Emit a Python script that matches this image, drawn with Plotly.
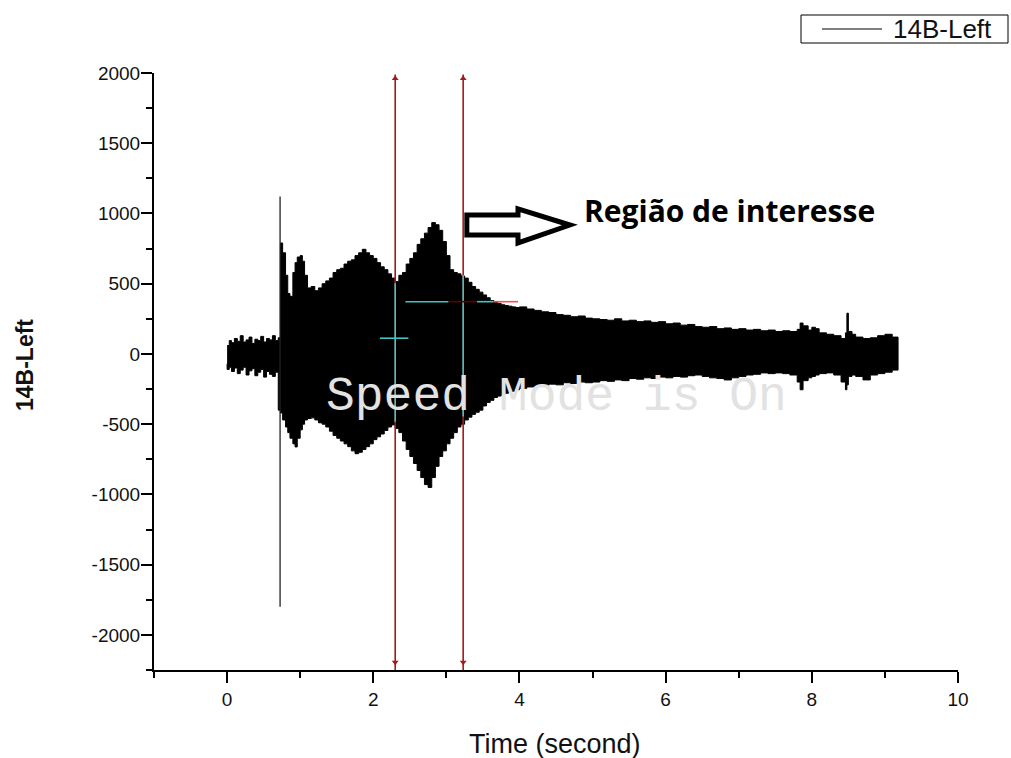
import plotly.graph_objects as go

# ---------------- data ----------------
# envelope of the waveform 14B-Left (time in s, amplitude)
t_env = [0.00, 0.03, 0.06, 0.10, 0.14, 0.18, 0.22, 0.26, 0.30, 0.34, 0.38, 0.42, 0.46, 0.50, 0.54, 0.58, 0.62, 0.66, 0.70,
         0.73, 0.76, 0.80, 0.83, 0.86, 0.90, 0.93, 0.96, 1.00, 1.03, 1.06,
         1.10, 1.15, 1.20, 1.25, 1.30, 1.35, 1.40, 1.45, 1.50, 1.55,
         1.60, 1.65, 1.70, 1.75, 1.80, 1.85, 1.90, 1.95, 2.00, 2.05,
         2.10, 2.15, 2.20, 2.25, 2.30, 2.35, 2.40, 2.45, 2.50, 2.55,
         2.60, 2.65, 2.70, 2.75, 2.80, 2.85, 2.90, 2.95, 3.00, 3.05,
         3.10, 3.15, 3.20, 3.25, 3.30, 3.35, 3.40, 3.45, 3.50, 3.55,
         3.60, 3.65, 3.70, 3.75, 3.80, 3.85, 3.90, 3.95, 4.00,
         4.1, 4.2, 4.3, 4.4, 4.5, 4.6, 4.7, 4.8, 4.9, 5.0,
         5.1, 5.2, 5.3, 5.4, 5.5, 5.6, 5.7, 5.8, 5.9, 6.0,
         6.1, 6.2, 6.3, 6.4, 6.5, 6.6, 6.7, 6.8, 6.9, 7.0,
         7.1, 7.2, 7.3, 7.4, 7.5, 7.6, 7.7, 7.8,
         7.84, 7.88, 7.95, 8.0, 8.05, 8.1, 8.2, 8.3, 8.4, 8.46, 8.48, 8.5, 8.55, 8.6, 8.7, 8.8, 8.9, 9.0, 9.1, 9.18]

upper_env = [60, 95, 80, 110, 90, 130, 85, 100, 120, 75, 105, 95, 125, 85, 110, 100, 130, 95, 115,
             790, 720, 560, 430, 410, 580, 650, 690, 700, 660, 560,
             470, 480, 450, 470, 500, 520, 540, 580, 600, 610,
             640, 660, 670, 700, 720, 745, 720, 700, 680, 650,
             620, 600, 570, 540, 515, 560, 580, 640, 680, 720,
             780, 820, 860, 900, 935, 920, 880, 800, 700, 600,
             580, 570, 555, 540, 510, 480, 460, 440, 420, 400,
             380, 370, 360, 350, 345, 340, 335, 330, 335,
             320, 310, 300, 295, 280, 275, 265, 270, 255, 250,
             245, 240, 250, 235, 240, 230, 235, 225, 230, 215,
             220, 205, 210, 195, 190, 195, 180, 185, 175, 180,
             170, 175, 165, 170, 160, 165, 160, 175,
             220, 200, 170, 190, 180, 150, 140, 130, 110, 150, 290, 160, 140, 120, 110, 115, 130, 140, 120, 95]

lower_env = [-70, -110, -95, -125, -100, -140, -115, -95, -150, -120, -105, -155, -130, -110, -165, -125, -145, -160, -130,
             -400, -420, -470, -520, -560, -600, -640, -662, -600, -540, -500,
             -470, -460, -455, -470, -490, -500, -520, -550, -580, -600,
             -620, -640, -660, -690, -710, -700, -680, -660, -640, -610,
             -590, -570, -545, -520, -505, -530, -560, -620, -680, -730,
             -780, -830, -880, -930, -950, -880, -800, -730, -690, -640,
             -600, -560, -520, -500, -470, -450, -430, -415, -400, -370,
             -345, -330, -310, -300, -290, -280, -270, -265, -255,
             -245, -235, -230, -225, -215, -220, -205, -210, -200, -205,
             -200, -190, -195, -185, -190, -175, -180, -170, -175, -165,
             -170, -160, -165, -155, -150, -160, -170, -175, -185, -170,
             -160, -150, -145, -135, -140, -135, -140, -150,
             -200, -255, -190, -170, -160, -150, -140, -135, -150, -200, -255, -220, -160, -150, -160, -185, -150, -140, -130, -115]

assert len(t_env) == len(upper_env) == len(lower_env)

# onset spike
spike_t = [0.725, 0.725]
spike_v = [-1800, 1120]

# data-reader cursors (red vertical lines)
cursor_t = [2.30, 3.23]
cursor_top = 1990
cursor_bottom = -2250

# cyan cursor pieces
cyan_vert_t = [2.30, 3.23]
cyan_vert_top = [503, 562]
cyan_vert_bottom = [-482, -446]
cross_t = [2.09, 2.48]
cross_v = 112
hline_v = 372
hline_cyan1_t = [2.44, 3.03]
hline_dark_t = [3.03, 3.42]
hline_cyan2_t = [3.42, 3.64]
hline_red_t = [3.64, 3.98]

# callout arrow outline (time, amplitude)
arrow_t = [3.28, 3.98, 3.98, 4.69, 3.98, 3.98, 3.28]
arrow_v = [989, 989, 1032, 918, 790, 847, 847]

series_name = "14B-Left"
xtick_vals = [0, 2, 4, 6, 8, 10]
xtick_text = ["0", "2", "4", "6", "8", "10"]
ytick_vals = [-2000, -1500, -1000, -500, 0, 500, 1000, 1500, 2000]
ytick_text = ["-2000", "-1500", "-1000", "-500", "0", "500", "1000", "1500", "2000"]

# ---------------- layout geometry (window pixels) ----------------
W, H = 1011, 758
PLOT_L, PLOT_R, PLOT_T, PLOT_B = 154, 958, 73, 670


def px_x(p):
    return (p - PLOT_L) / (PLOT_R - PLOT_L)


def px_y(p):
    return (PLOT_B - p) / (PLOT_B - PLOT_T)


# ---------------- figure ----------------
fig = go.Figure()

poly_x = t_env + t_env[::-1]
poly_y = upper_env + lower_env[::-1]
fig.add_trace(go.Scatter(x=poly_x, y=poly_y, mode="lines", fill="toself",
                         fillcolor="black", line=dict(color="black", width=1, shape="hv"),
                         showlegend=False, hoverinfo="skip"))

fig.add_trace(go.Scatter(x=spike_t, y=spike_v, mode="lines", name=series_name,
                         line=dict(color="#222", width=1.3), showlegend=False))

red = "#a31a1a"
for ct in cursor_t:
    fig.add_trace(go.Scatter(x=[ct, ct], y=[cursor_bottom, cursor_top], mode="lines",
                             line=dict(color=red, width=1.6), showlegend=False, hoverinfo="skip"))
    fig.add_trace(go.Scatter(x=[ct, ct], y=[cursor_top - 30, cursor_bottom + 55], mode="markers",
                             marker=dict(symbol=["triangle-up", "triangle-down"], size=6, color=red),
                             showlegend=False, hoverinfo="skip"))

cyan = "#3cc6c6"
for ct, a, b in zip(cyan_vert_t, cyan_vert_top, cyan_vert_bottom):
    fig.add_trace(go.Scatter(x=[ct, ct], y=[b, a], mode="lines",
                             line=dict(color=cyan, width=1.6), showlegend=False, hoverinfo="skip"))
fig.add_trace(go.Scatter(x=cross_t, y=[cross_v, cross_v], mode="lines",
                         line=dict(color=cyan, width=1.6), showlegend=False, hoverinfo="skip"))
for seg, col in [(hline_cyan1_t, cyan), (hline_dark_t, "#5a0000"),
                 (hline_cyan2_t, cyan), (hline_red_t, "#ff4a4a")]:
    fig.add_trace(go.Scatter(x=seg, y=[hline_v, hline_v], mode="lines",
                             line=dict(color=col, width=1.6), showlegend=False, hoverinfo="skip"))

# callout arrow
path = "M " + " L ".join(f"{x},{y}" for x, y in zip(arrow_t, arrow_v)) + " Z"
fig.add_shape(type="path", path=path, xref="x", yref="y",
              line=dict(color="black", width=5), fillcolor="white", layer="above")

fig.add_annotation(x=4.85, y=1018, xref="x", yref="y", text="<b>Região de interesse</b>",
                   showarrow=False, xanchor="left", yanchor="middle",
                   font=dict(family="Open Sans", size=30, color="black"))

fig.add_annotation(x=4.50, y=-306, xref="x", yref="y", text="Speed Mode is On",
                   showarrow=False, xanchor="center", yanchor="middle",
                   font=dict(family="Liberation Mono", size=48, color="#e2e2e2"))

# boxed legend (Origin style) in the top-right corner
fig.add_shape(type="rect", xref="paper", yref="paper",
              x0=px_x(801), x1=px_x(1008), y0=px_y(43), y1=px_y(15),
              line=dict(color="black", width=1), fillcolor="white")
fig.add_shape(type="line", xref="paper", yref="paper",
              x0=px_x(822), x1=px_x(882), y0=px_y(29), y1=px_y(29),
              line=dict(color="black", width=1.2))
fig.add_annotation(x=px_x(891), y=px_y(29), xref="paper", yref="paper", text=series_name,
                   showarrow=False, xanchor="left", yanchor="middle",
                   font=dict(family="Liberation Sans", size=26, color="#111"))

# axis titles
fig.add_annotation(x=0, y=px_y(365), xref="paper", yref="paper", xshift=-129, text="<b>14B-Left</b>",
                   textangle=-90, showarrow=False, xanchor="center", yanchor="middle",
                   font=dict(family="Liberation Sans", size=23, color="#111"))
fig.add_annotation(x=px_x(555), y=0, xref="paper", yref="paper", yshift=-74, text="Time (second)",
                   showarrow=False, xanchor="center", yanchor="middle",
                   font=dict(family="Liberation Sans", size=27, color="#111"))

fig.update_xaxes(range=[-1, 10], showgrid=False, zeroline=False, showline=True,
                 linecolor="black", linewidth=2, ticks="outside", ticklen=11, tickwidth=2,
                 tickcolor="black", tickmode="array", tickvals=xtick_vals, ticktext=xtick_text,
                 ticklabelstandoff=0,
                 tickfont=dict(family="Liberation Sans", size=19, color="#111"),
                 minor=dict(dtick=1, tick0=0, ticks="outside", ticklen=6, tickwidth=2, tickcolor="black"))
fig.update_yaxes(range=[-2250, 2000], showgrid=False, zeroline=False, showline=True,
                 linecolor="black", linewidth=2, ticks="outside", ticklen=11, tickwidth=2,
                 tickcolor="black", tickmode="array", tickvals=ytick_vals, ticktext=ytick_text,
                 ticklabelstandoff=-3,
                 tickfont=dict(family="Liberation Sans", size=19, color="#111"),
                 minor=dict(dtick=250, tick0=0, ticks="outside", ticklen=6, tickwidth=2, tickcolor="black"))

fig.update_layout(
    width=W, height=H,
    margin=dict(l=PLOT_L, r=W - PLOT_R, t=PLOT_T, b=H - PLOT_B),
    paper_bgcolor="white", plot_bgcolor="white",
    showlegend=False,
)

fig.write_html("out.html", config={"displayModeBar": False},
               post_script="document.body.style.margin='0';document.body.style.overflow='hidden';")
